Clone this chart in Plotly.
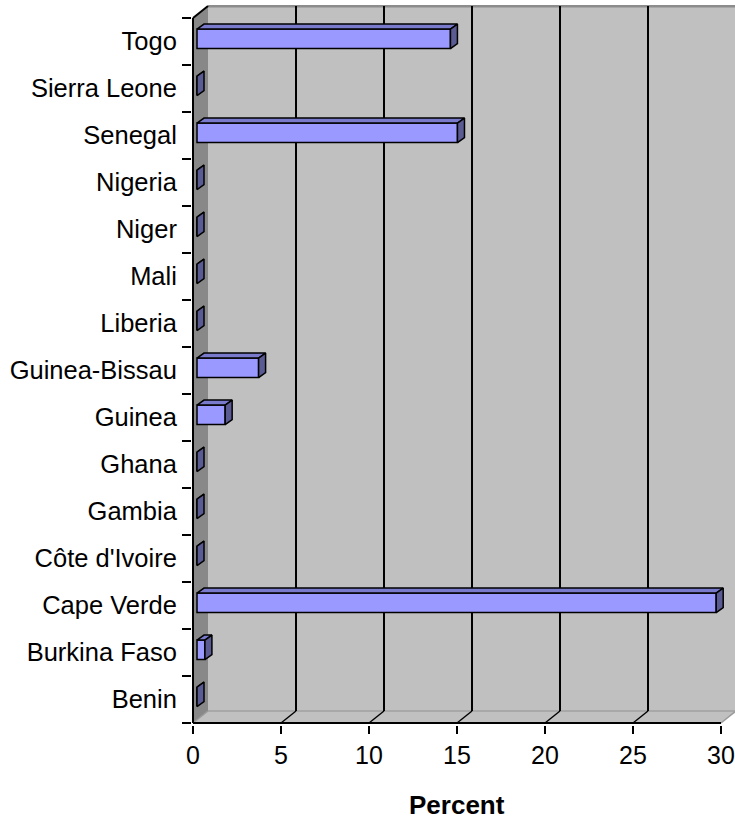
import plotly.graph_objects as go

# ---------------- data ----------------
countries = ["Benin", "Burkina Faso", "Cape Verde", "Côte d'Ivoire", "Gambia", "Ghana",
             "Guinea", "Guinea-Bissau", "Liberia", "Mali", "Niger", "Nigeria",
             "Senegal", "Sierra Leone", "Togo"]
percent = [0, 0.45, 29.5, 0, 0, 0, 1.6, 3.5, 0, 0, 0, 0, 14.8, 0, 14.4]
x_ticks = [0, 5, 10, 15, 20, 25, 30]
x_title = "Percent"

# ---------------- geometry (pixel scale of the axes) ----------------
W, H = 735, 821
PL, PR, PT, PB = 192, 735, 5, 725          # plot area in pixels
PX_X = 17.6                                  # pixels per percent
PX_C = 47.0                                  # pixels per category
XMIN = -1.0 / PX_X
XMAX = XMIN + (PR - PL) / PX_X
YMIN = -0.5 - (PB - 723) / PX_C
YMAX = YMIN + (PB - PT) / PX_C

DXB, DYB = 15 / PX_X, 12 / PX_C              # depth of the chart box
BX0 = 4 / PX_X                               # bar front face depth shift
BDX, BDY = 7 / PX_X, 5 / PX_C                # bar depth
BW, BOFF = 0.415, -0.15                      # bar thickness / offset (category units)

n = len(countries)
idx = list(range(n))
ylo, yhi = -0.5, n - 0.5
XEND = x_ticks[-1]

FONT = "Liberation Sans, Arial, sans-serif"

# ---------------- walls & grid (shapes) ----------------
shapes = []
def poly(pts, fill, line="rgba(0,0,0,0)", lw=0):
    p = "M " + " L ".join(f"{x},{y}" for x, y in pts) + " Z"
    shapes.append(dict(type="path", path=p, xref="x", yref="y", fillcolor=fill,
                       line=dict(color=line, width=lw), layer="below"))
def seg(x0, y0, x1, y1, color="black", lw=2):
    shapes.append(dict(type="line", x0=x0, y0=y0, x1=x1, y1=y1, xref="x", yref="y",
                       line=dict(color=color, width=lw), layer="below"))

# back wall
poly([(DXB, ylo + DYB), (XMAX + 1, ylo + DYB), (XMAX + 1, yhi + DYB), (DXB, yhi + DYB)], "#C0C0C0")
# left wall
poly([(0, ylo), (0, yhi), (DXB, yhi + DYB), (DXB, ylo + DYB)], "#888888")
# floor
poly([(0, ylo), (XEND, ylo), (XEND + DXB, ylo + DYB), (DXB, ylo + DYB)], "#C0C0C0")
# back wall top edge
seg(DXB, yhi + DYB, XMAX + 1, yhi + DYB, "#8C8C8C", 3)
# floor back edge
seg(DXB, ylo + DYB, XMAX + 1, ylo + DYB, "#A0A0A0", 1.5)
# gridlines on back wall and floor
for v in x_ticks[1:-1]:
    seg(v + DXB, ylo + DYB, v + DXB, yhi + DYB, "black", 2)
    seg(v, ylo, v + DXB, ylo + DYB, "black", 1.5)
seg(0, ylo, DXB, ylo + DYB, "#9A9A9A", 1.5)
seg(XEND, ylo, XEND + DXB, ylo + DYB, "#9A9A9A", 1.5)
# front axis lines
seg(0, ylo, 0, yhi, "black", 2)
seg(0, yhi, DXB, yhi + DYB, "black", 2)
seg(0, ylo, XEND, ylo, "black", 2)

# ---------------- 3D faces of bars ----------------
top_x, top_y, side_x, side_y = [], [], [], []
for i, v in zip(idx, percent):
    b0 = i + BOFF
    b1 = b0 + BW
    x0 = BX0
    x1 = BX0 + v
    top_x += [x0, x0 + BDX, x1 + BDX, x1, x0, None]
    top_y += [b1, b1 + BDY, b1 + BDY, b1, b1, None]
    side_x += [x1, x1, x1 + BDX, x1 + BDX, x1, None]
    side_y += [b0, b1, b1 + BDY, b0 + BDY, b0, None]

fig = go.Figure()
fig.add_trace(go.Scatter(x=top_x, y=top_y, mode="lines", fill="toself",
                         fillcolor="#7A7ACC", line=dict(color="black", width=1.5),
                         hoverinfo="skip", showlegend=False))
fig.add_trace(go.Scatter(x=side_x, y=side_y, mode="lines", fill="toself",
                         fillcolor="#5B5B94", line=dict(color="black", width=1.5),
                         hoverinfo="skip", showlegend=False))
fig.add_trace(go.Bar(y=idx, x=percent, base=[BX0] * n, orientation="h",
                     width=BW, offset=BOFF,
                     marker=dict(color="#9999FF", line=dict(color="black", width=1.5)),
                     showlegend=False))
fig.add_trace(go.Scatter(x=[None], y=[None], yaxis="y2", showlegend=False))

fig.update_layout(
    width=W, height=H,
    margin=dict(l=PL, r=W - PR, t=PT, b=H - PB, pad=0),
    paper_bgcolor="white", plot_bgcolor="white",
    shapes=shapes,
    font=dict(family=FONT, size=25, color="black"),
    xaxis=dict(range=[XMIN, XMAX], tickvals=x_ticks, ticktext=[str(t) for t in x_ticks],
               ticks="outside", ticklen=8, tickwidth=2, tickcolor="black",
               showgrid=False, zeroline=False, showline=False,
               tickfont=dict(size=25, family=FONT)),
    yaxis=dict(range=[YMIN, YMAX], tickvals=idx, ticktext=countries,
               ticks="outside", ticklen=9, tickcolor="rgba(0,0,0,0)",
               showgrid=False, zeroline=False, showline=False,
               tickfont=dict(size=25.5, family=FONT)),
    yaxis2=dict(range=[YMIN, YMAX], overlaying="y", side="left", anchor="x",
                tickvals=[i - 0.5 for i in range(n + 1)], ticks="outside", ticklen=9,
                tickwidth=2, tickcolor="black", showticklabels=False,
                showgrid=False, zeroline=False, showline=False),
    annotations=[dict(text=f"<b>{x_title}</b>", x=XEND / 2, xref="x",
                      y=(PB - 805) / (PB - PT), yref="paper", xanchor="center",
                      yanchor="middle", showarrow=False,
                      font=dict(size=26, family=FONT, color="black"))],
)

fig.write_html("out.html")
